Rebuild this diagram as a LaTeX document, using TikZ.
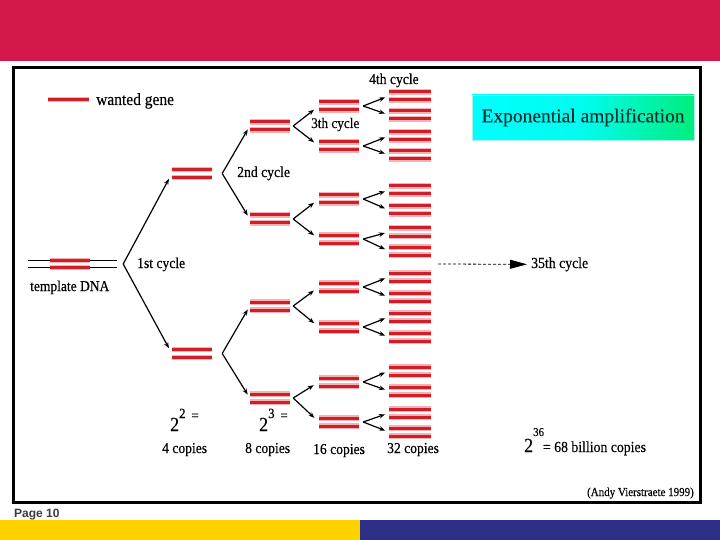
\documentclass[tikz,border=0pt]{standalone}
\usepackage{fontspec}
\setmainfont{Liberation Serif}
\newfontfamily\lblfont{Liberation Serif}[FakeBold=0.3,FakeStretch=0.9]
\newfontfamily\titlefont{Liberation Serif}[FakeBold=0.3]
\newfontfamily\pagefont{Liberation Sans}
\usetikzlibrary{arrows.meta}
\definecolor{topred}{RGB}{211,24,74}
\definecolor{strandred}{RGB}{208,30,40}
\definecolor{halo}{RGB}{246,178,178}
\definecolor{yellowbar}{RGB}{255,210,0}
\definecolor{bluebar}{RGB}{46,48,135}
\definecolor{titletext}{RGB}{12,48,48}
\definecolor{pagegray}{RGB}{60,60,60}
\definecolor{shadeL}{RGB}{0,255,255}
\definecolor{shadeM}{RGB}{0,252,238}
\definecolor{shadeR}{RGB}{0,238,125}
\definecolor{titleedge}{RGB}{170,240,235}
\tikzset{
  redline/.style={line width=3pt, strandred},
  haloline/.style={line width=5.5pt, halo},
  dsdna/.style={rectangle, inner sep=0pt, minimum width=40pt, minimum height=16pt,
    path picture={
      \foreach \o in {-4,4}{
        \draw[haloline] ([yshift=\o pt]path picture bounding box.west) -- ([yshift=\o pt]path picture bounding box.east);
        \draw[redline] ([yshift=\o pt]path picture bounding box.west) -- ([yshift=\o pt]path picture bounding box.east);
      }}},
  ssgene/.style={rectangle, inner sep=0pt, minimum width=41pt, minimum height=8pt,
    path picture={
      \draw[haloline] (path picture bounding box.west) -- (path picture bounding box.east);
      \draw[redline] (path picture bounding box.west) -- (path picture bounding box.east);
    }},
  templ/.style={rectangle, inner sep=0pt, minimum width=89pt, minimum height=16pt,
    path picture={
      \foreach \o in {-3.5,3.5}{
        \draw[line width=1.3pt, black] ([yshift=\o pt]path picture bounding box.west) -- ([yshift=\o pt]path picture bounding box.east);
        \draw[haloline] ([xshift=22pt,yshift=\o pt]path picture bounding box.west) -- ([xshift=62pt,yshift=\o pt]path picture bounding box.west);
        \draw[redline] ([xshift=22pt,yshift=\o pt]path picture bounding box.west) -- ([xshift=62pt,yshift=\o pt]path picture bounding box.west);
      }}},
  arr/.style={-{Stealth[length=6pt,width=4.5pt]}, line width=1.2pt, black, shorten >=4pt},
  lbl/.style={anchor=base west, inner sep=0pt, font=\lblfont\fontsize{15.1}{16}\selectfont},
  titlebox/.style={rectangle, minimum width=222pt, minimum height=45pt, inner sep=0pt,
    draw=titleedge, line width=0.8pt,
    left color=shadeL, right color=shadeR, middle color=shadeM,
    text=titletext, font=\titlefont\fontsize{19.5}{20}\selectfont}
}
\begin{document}
\begin{tikzpicture}[x=1pt,y=-1pt]
\useasboundingbox (0,0) rectangle (720,540);
% page decoration
\fill[topred] (0,0) rectangle (720,61);
\fill[yellowbar] (0,520) rectangle (360,540);
\fill[bluebar] (360,520) rectangle (720,540);
\draw[line width=3pt, black] (13.5,67.5) rectangle (700,502);
\node[anchor=base west, inner sep=0pt, text=pagegray, font=\pagefont\bfseries\fontsize{12}{12}\selectfont] (page) at (14,517) {Page 10};

% legend
\node[ssgene] (legend) at (68.5,99.5) {};
\node[lbl, font=\lblfont\fontsize{17.2}{18}\selectfont] (legendtxt) at (96,105) {wanted gene};

% template
\node[templ] (T) at (72.5,264) {};
\node[lbl, font=\lblfont\fontsize{15}{16}\selectfont] (Ttxt) at (30,291) {template DNA};

% level 1
\node[dsdna] (L1a) at (192,173.5) {};
\node[dsdna] (L1b) at (192,353.5) {};
% level 2
\foreach \n/\y in {a/126,b/219,c/306,d/398}
  \node[dsdna] (L2\n) at (270,\y) {};
% level 3
\foreach \n/\y in {a/106,b/146,c/199,d/239,e/287,f/327,g/382,h/422}
  \node[dsdna] (L3\n) at (339,\y) {};
% level 4
\foreach \n/\y in {a/96,b/115,c/136,d/155,e/190,f/210,g/232,h/251,i/277,j/297,k/317,l/337,m/371,n/391,o/413,p/432}
  \node[dsdna, minimum width=42pt] (L4\n) at (410,\y) {};

% fork vertices
\coordinate (F0) at ([xshift=6pt]T.east);
\foreach \n in {a,b} \coordinate (F1\n) at ([xshift=10pt]L1\n.east);
\foreach \n in {a,b,c,d} \coordinate (F2\n) at ([xshift=3pt]L2\n.east);
\foreach \n in {a,b,c,d,e,f,g,h} \coordinate (F3\n) at ([xshift=4pt]L3\n.east);

% arrows
\draw[arr, shorten >=6pt] (F0) -- (L1a.west);
\draw[arr, shorten >=6pt] (F0) -- (L1b.west);
\foreach \p/\c in {a/a,a/b,b/c,b/d}
  \draw[arr] (F1\p) -- (L2\c.west);
\foreach \p/\c in {a/a,a/b,b/c,b/d,c/e,c/f,d/g,d/h}
  \draw[arr, shorten >=6pt] (F2\p) -- (L3\c.west);
\foreach \p/\c in {a/a,a/b,b/c,b/d,c/e,c/f,d/g,d/h,e/i,e/j,f/k,f/l,g/m,g/n,h/o,h/p}
  \draw[arr] (F3\p) -- (L4\c.west);

% cycle labels
\node[lbl] (c1) at (137,268) {1st cycle};
\node[lbl, font=\lblfont\fontsize{15.2}{16}\selectfont] (c2) at (237,177) {2nd cycle};
\node[lbl, font=\lblfont\fontsize{14.7}{16}\selectfont] (c3) at (311,128) {3th cycle};
\node[lbl] (c4) at (369,84) {4th cycle};
\node[lbl, font=\lblfont\fontsize{15.3}{16}\selectfont] (c35) at (531,268) {35th cycle};
\coordinate (dstart) at (438,264);
\draw[line width=0.8pt, dash pattern=on 3pt off 2pt, -{Triangle[length=17pt,width=9pt]}, shorten >=4pt] (dstart) -- (c35.west);

% title
\node[titlebox] (title) at (583,117.5) {Exponential amplification};

% copies
\node[lbl] (p2) at (170,431) {{\fontsize{20}{20}\selectfont 2}\raisebox{13pt}{\fontsize{14}{14}\selectfont 2}\hspace{6pt}\raisebox{11pt}{\fontsize{14}{14}\selectfont =}};
\node[lbl] (p3) at (259,431) {{\fontsize{20}{20}\selectfont 2}\raisebox{13pt}{\fontsize{14}{14}\selectfont 3}\hspace{6pt}\raisebox{11pt}{\fontsize{14}{14}\selectfont =}};
\node[lbl] (k4) at (162,453) {4 copies};
\node[lbl] (k8) at (245,453) {8 copies};
\node[lbl] (k16) at (313,454) {16 copies};
\node[lbl] (k32) at (387,453) {32 copies};
\node[lbl] (p36) at (524,452) {{\fontsize{20}{20}\selectfont 2}\raisebox{16pt}{\fontsize{12}{12}\selectfont 36}\hspace{-1pt}{\fontsize{15.3}{16}\selectfont = 68 billion copies}};
\node[anchor=base east, inner sep=0pt, font=\lblfont\fontsize{12.2}{13}\selectfont] (credit) at (694,496) {(Andy Vierstraete 1999)};
\end{tikzpicture}
\end{document}
